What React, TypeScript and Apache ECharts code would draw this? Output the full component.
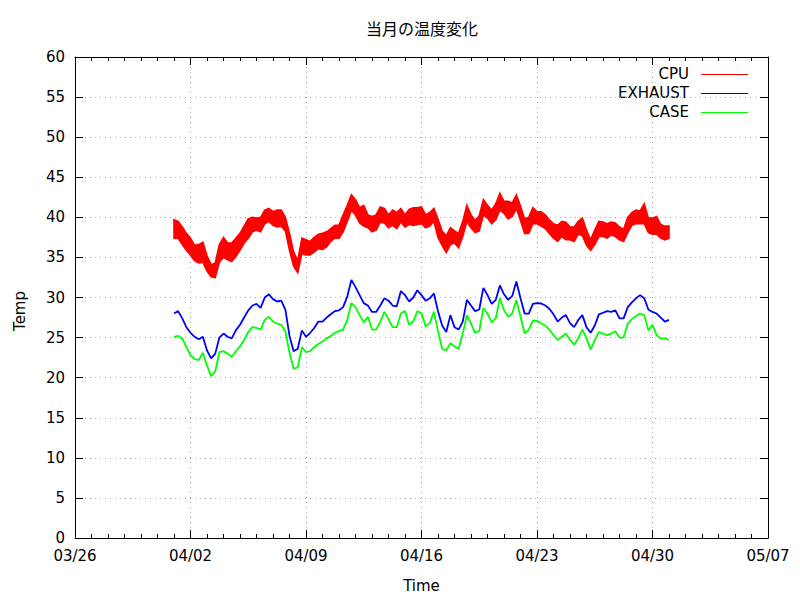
import React, { useEffect, useRef } from 'react';
import * as echarts from 'echarts';

// Tick labels of the time axis (one per week, starting 03/26)
const xTickLabels = ['03/26', '04/02', '04/09', '04/16', '04/23', '04/30', '05/07'];
const seriesNames = ['CPU', 'EXHAUST', 'CASE'];
// samples: every 6 hours from 04/01 00:00 (day 6 after 03/26)
const firstSampleDay = 6;
const sampleStepDays = 0.25;

const cpuHigh = [
  39.7, 39.5, 38.8, 38.0, 37.4, 36.5, 36.6, 36.9,
  35.2, 34.1, 34.3, 36.6, 37.5, 36.8, 36.8, 37.4,
  38.0, 38.9, 39.8, 40.0, 39.9, 40.0, 40.9, 41.1,
  40.7, 40.9, 40.9, 40.0, 38.0, 35.7, 34.6, 37.4,
  37.2, 37.0, 37.5, 37.9, 38.0, 38.2, 38.6, 39.0,
  39.0, 40.3, 41.5, 42.8, 42.2, 41.2, 41.5, 40.3,
  40.1, 40.3, 41.3, 41.1, 40.3, 40.9, 40.6, 41.1,
  40.3, 41.0, 41.2, 41.2, 41.3, 40.3, 40.6, 41.1,
  39.8, 38.3, 37.7, 38.7, 38.3, 38.0, 39.5, 41.5,
  40.3, 39.6, 40.2, 42.2, 41.5, 40.9, 41.7, 43.0,
  42.0, 42.0, 41.8, 42.8, 41.4, 39.8, 40.0, 41.2,
  40.7, 40.7, 40.3, 39.7, 39.2, 39.0, 39.5, 39.4,
  38.8, 38.8, 39.5, 39.9, 38.4, 37.2, 38.4, 39.5,
  39.4, 39.2, 39.4, 39.3, 38.8, 38.5, 40.0, 40.6,
  40.9, 40.8, 41.7, 39.9, 39.9, 40.1, 39.1, 38.9,
  38.9,
];

const cpuLow = [
  37.4, 37.4, 36.6, 35.9, 35.3, 34.6, 34.3, 34.4,
  33.3, 32.6, 32.5, 34.4, 35.0, 34.7, 34.5, 35.1,
  35.9, 36.8, 37.4, 38.2, 38.4, 38.2, 39.2, 39.5,
  39.0, 38.8, 38.9, 38.3, 35.9, 33.9, 33.1, 35.5,
  35.3, 35.3, 35.7, 36.1, 36.0, 36.3, 37.0, 37.4,
  37.4, 38.2, 39.5, 40.9, 40.3, 39.3, 38.9, 38.7,
  38.2, 38.4, 39.4, 39.3, 38.7, 39.0, 38.6, 39.4,
  38.8, 39.1, 39.0, 39.1, 39.2, 38.7, 38.9, 39.5,
  37.5, 36.5, 35.6, 36.6, 36.8, 36.2, 37.6, 39.5,
  38.7, 38.1, 38.3, 40.3, 39.9, 39.2, 39.7, 40.9,
  40.5, 39.8, 40.1, 41.1, 39.6, 38.0, 38.0, 39.2,
  39.2, 38.9, 38.6, 38.0, 37.4, 37.0, 37.6, 37.2,
  37.2, 37.0, 37.9, 37.7, 36.5, 35.9, 36.6, 37.6,
  37.6, 37.4, 37.8, 37.6, 37.2, 37.0, 38.1, 39.0,
  39.2, 39.2, 39.25, 38.1, 37.9, 37.9, 37.4, 37.2,
  37.4,
];

const exhaust = [
  28.0, 28.3, 27.4, 26.3, 25.6, 25.1, 24.8, 25.1,
  23.4, 22.4, 23.0, 25.0, 25.5, 25.1, 24.9, 25.9,
  26.6, 27.5, 28.4, 29.0, 29.2, 28.7, 30.0, 30.4,
  29.8, 29.5, 29.6, 28.5, 25.2, 23.3, 23.6, 25.9,
  25.1, 25.6, 26.2, 27.0, 27.0, 27.5, 27.9, 28.3,
  28.4, 28.8, 30.1, 32.2, 31.3, 30.3, 29.3, 29.0,
  28.2, 28.2, 29.0, 29.9, 29.6, 29.0, 28.9, 30.8,
  30.3, 29.5, 30.0, 30.9, 30.3, 29.6, 29.9, 30.5,
  28.3, 26.5, 25.7, 27.8, 26.3, 26.0, 27.0, 29.7,
  29.0, 28.3, 28.5, 31.2, 30.3, 29.2, 29.7, 31.5,
  30.4, 29.7, 30.2, 32.0, 29.9, 28.0, 28.0, 29.2,
  29.3, 29.25, 29.0, 28.6, 27.9, 27.0, 27.5, 27.8,
  26.8, 26.3, 27.2, 27.8, 26.3, 25.6, 26.5, 27.9,
  28.1, 28.3, 28.2, 28.4, 27.4, 27.4, 28.8, 29.4,
  29.9, 30.3, 29.9, 28.5, 28.2, 28.0, 27.5, 27.0,
  27.2,
];

const caseTemp = [
  25.1, 25.2, 24.9, 23.8, 22.8, 22.3, 22.2, 23.1,
  21.5, 20.2, 20.8, 23.2, 23.3, 23.0, 22.6, 23.3,
  23.9, 24.7, 25.7, 26.3, 26.2, 26.0, 27.2, 27.6,
  27.0, 26.75, 26.6, 25.8, 23.1, 21.1, 21.3, 23.8,
  23.2, 23.3, 23.8, 24.2, 24.5, 24.9, 25.2, 25.6,
  25.8, 26.0, 27.2, 29.3, 28.8, 27.8, 26.9, 27.6,
  26.0, 26.0, 27.0, 28.2, 27.3, 26.3, 26.3, 28.0,
  28.3, 26.6, 27.0, 28.3, 28.0, 26.4, 26.8, 28.2,
  25.8, 23.6, 23.4, 24.3, 23.9, 23.6, 25.5, 27.8,
  26.75, 25.6, 25.8, 28.7, 28.0, 26.9, 27.4, 29.9,
  28.4, 27.6, 28.0, 29.7, 27.6, 25.5, 26.0, 27.1,
  27.1, 26.75, 26.5, 26.0, 25.3, 24.7, 25.1, 25.5,
  24.7, 24.1, 24.9, 26.0, 24.9, 23.5, 24.7, 25.7,
  25.5, 25.3, 25.5, 25.8, 25.0, 25.0, 26.75, 27.3,
  27.7, 28.0, 27.8, 25.9, 26.6, 25.3, 24.9, 24.9,
  24.7,
];

const COLORS = ['#ff0000', '#0000ff', '#00ff00'];
const FONT = 'DejaVu Sans';

export default function App() {
  const ref = useRef<HTMLDivElement>(null);

  useEffect(() => {
    if (!ref.current) return;
    const chart = echarts.init(ref.current, null, { renderer: 'svg' });
    const dayOf = (i: number) => firstSampleDay + i * sampleStepDays;
    const bandData = cpuHigh.map((v, i) => [dayOf(i), v, cpuLow[i]]);
    const exhData = exhaust.map((v, i) => [dayOf(i), v]);
    const caseData = caseTemp.map((v, i) => [dayOf(i), v]);

    const black = { color: '#000', width: 1 };
    const gridLine = { show: true, lineStyle: { color: '#a8a8a8', width: 1, type: [1, 4] } };

    const graphics: any[] = [];
    seriesNames.forEach((name, k) => {
      const y = 74 + k * 19;
      graphics.push({
        type: 'text',
        x: 689,
        y,
        style: {
          text: name,
          fill: '#000',
          font: `15px "${FONT}"`,
          align: 'right',
          verticalAlign: 'middle',
        },
      });
      graphics.push({
        type: 'line',
        shape: { x1: 701, y1: y + 0.5, x2: 748, y2: y + 0.5 },
        style: { stroke: COLORS[k], lineWidth: 1 },
      });
    });
    // y-axis title, placed as gnuplot does
    graphics.push({
      type: 'text',
      x: 20,
      y: 311,
      rotation: Math.PI / 2,
      style: {
        text: 'Temp',
        fill: '#000',
        font: `15px "${FONT}"`,
        align: 'center',
        verticalAlign: 'middle',
      },
    });

    chart.setOption({
      animation: false,
      backgroundColor: '#fff',
      textStyle: { fontFamily: FONT },
      title: {
        text: '当月の温度変化',
        left: 417,
        top: 15,
        textAlign: 'center',
        textStyle: { fontFamily: 'Noto Sans CJK JP', fontSize: 16, fontWeight: 'normal', color: '#000' },
      },
      grid: { left: 75, right: 32, top: 57, bottom: 62 },
      xAxis: [
        {
          type: 'value',
          min: 0,
          max: 42,
          interval: 7,
          position: 'bottom',
          name: 'Time',
          nameLocation: 'middle',
          nameGap: 40,
          nameTextStyle: { fontSize: 15, color: '#000', fontFamily: FONT },
          axisLine: { show: true, onZero: false, lineStyle: black },
          axisTick: { show: true, inside: true, length: 8, lineStyle: black },
          minorTick: { show: true, splitNumber: 7, length: 4, lineStyle: black },
          axisLabel: {
            formatter: (v: number) => xTickLabels[Math.round(v / 7)] ?? '',
            margin: 10,
            fontSize: 15,
            color: '#000',
            fontFamily: FONT,
          },
          splitLine: gridLine,
        },
        {
          type: 'value',
          min: 0,
          max: 42,
          interval: 7,
          position: 'top',
          axisLine: { show: true, onZero: false, lineStyle: black },
          axisTick: { show: true, inside: true, length: 8, lineStyle: black },
          minorTick: { show: true, splitNumber: 7, length: 4, lineStyle: black },
          axisLabel: { show: false },
          splitLine: { show: false },
        },
      ],
      yAxis: [
        {
          type: 'value',
          min: 0,
          max: 60,
          interval: 5,
          position: 'left',
          axisLine: { show: true, onZero: false, lineStyle: black },
          axisTick: { show: true, inside: true, length: 8, lineStyle: black },
          axisLabel: { margin: 10, fontSize: 15, color: '#000', fontFamily: FONT },
          splitLine: gridLine,
        },
        {
          type: 'value',
          min: 0,
          max: 60,
          interval: 5,
          position: 'right',
          axisLine: { show: true, onZero: false, lineStyle: black },
          axisTick: { show: true, inside: true, length: 8, lineStyle: black },
          axisLabel: { show: false },
          splitLine: { show: false },
        },
      ],
      series: [
        {
          type: 'custom',
          name: seriesNames[0],
          xAxisIndex: 0,
          yAxisIndex: 0,
          data: [bandData[0]],
          encode: { x: 0, y: 1 },
          silent: true,
          renderItem: (_params: any, api: any) => {
            const upper = bandData.map((d) => api.coord([d[0], d[1]]));
            const lower = bandData.map((d) => api.coord([d[0], d[2]])).reverse();
            return {
              type: 'polygon',
              shape: { points: upper.concat(lower) },
              style: { fill: COLORS[0], stroke: COLORS[0], lineWidth: 1.6 },
            };
          },
        },
        {
          type: 'line',
          name: seriesNames[1],
          xAxisIndex: 0,
          yAxisIndex: 0,
          data: exhData,
          showSymbol: false,
          symbol: 'none',
          silent: true,
          lineStyle: { color: COLORS[1], width: 1.8 },
        },
        {
          type: 'line',
          name: seriesNames[2],
          xAxisIndex: 0,
          yAxisIndex: 0,
          data: caseData,
          showSymbol: false,
          symbol: 'none',
          silent: true,
          lineStyle: { color: COLORS[2], width: 1.8 },
        },
      ],
      graphic: graphics,
    });

    return () => chart.dispose();
  }, []);

  return (
    <div
      ref={ref}
      style={{ position: 'fixed', left: 0, top: 0, width: 800, height: 600, background: '#fff' }}
    />
  );
}
